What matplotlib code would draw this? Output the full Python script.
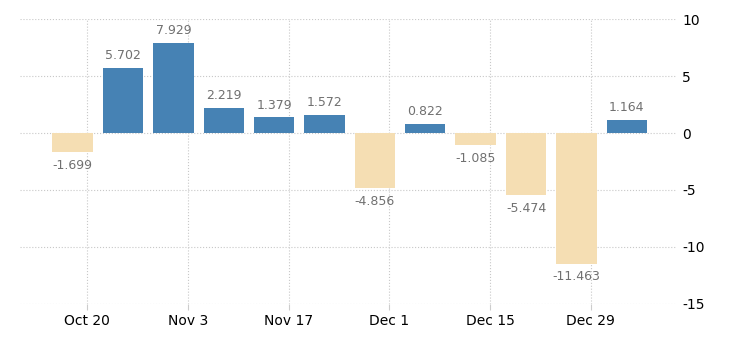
import matplotlib
matplotlib.use('Agg')
import matplotlib.pyplot as plt
import matplotlib.dates as mdates
import pandas as pd

plt.rcParams['axes.unicode_minus'] = False

dates = pd.date_range('2023-10-18', periods=12, freq='7D')
values = [-1.699, 5.702, 7.929, 2.219, 1.379, 1.572, -4.856, 0.822, -1.085, -5.474, -11.463, 1.164]
tick_dates = pd.to_datetime(['2023-10-20', '2023-11-03', '2023-11-17', '2023-12-01', '2023-12-15', '2023-12-29'])
tick_labels = ['Oct 20', 'Nov 3', 'Nov 17', 'Dec 1', 'Dec 15', 'Dec 29']

fig = plt.figure(figsize=(7.3, 3.4), dpi=100)
ax = fig.add_axes([0.0274, 0.106, 0.8996, 0.838])

x = mdates.date2num(dates)
colors = ['#4682b4' if v >= 0 else '#f5deb3' for v in values]
ax.bar(x, values, width=5.6, color=colors, zorder=2)

for xi, v in zip(x, values):
    if v >= 0:
        ax.text(xi, v + 0.5, '%.3f' % v, ha='center', va='bottom', fontsize=9, color='#707070')
    else:
        ax.text(xi, v - 0.6, '%.3f' % v, ha='center', va='top', fontsize=9, color='#707070')

ax.set_xlim(mdates.date2num(pd.Timestamp('2023-10-10 16:30')), mdates.date2num(pd.Timestamp('2024-01-09 22:30')))
ax.set_ylim(-15, 10)
ax.set_yticks([-15, -10, -5, 0, 5, 10])
ax.set_xticks(mdates.date2num(tick_dates))
ax.set_xticklabels(tick_labels)

ax.yaxis.tick_right()
ax.tick_params(axis='y', length=0, labelsize=10, pad=4)
ax.tick_params(axis='x', length=4, color='#cccccc', labelsize=10, pad=3)
for s in ax.spines.values():
    s.set_visible(False)
ax.grid(True, color='#c8c8c8', linestyle=':', linewidth=0.8, zorder=0)
ax.set_axisbelow(True)

fig.savefig('out.png', dpi=100)
